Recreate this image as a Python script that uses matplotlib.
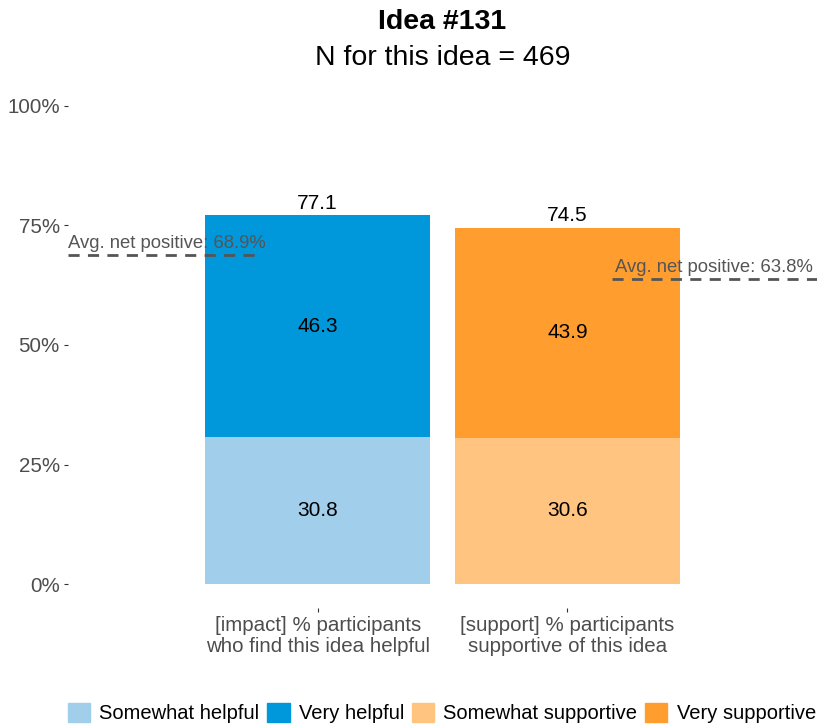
import matplotlib
matplotlib.use('Agg')
import matplotlib.pyplot as plt
from matplotlib.patches import Patch

plt.rcParams['font.family'] = ['Liberation Sans', 'DejaVu Sans']

# data
categories = ['[impact] % participants\nwho find this idea helpful',
              '[support] % participants\nsupportive of this idea']
somewhat = [30.8, 30.6]
very = [46.3, 43.9]
totals = [77.1, 74.5]
avg_net = [68.9, 63.8]
legend_labels = ['Somewhat helpful', 'Very helpful', 'Somewhat supportive', 'Very supportive']
light_colors = ['#a1cfeb', '#ffc47f']
dark_colors = ['#0098da', '#ff9e2e']

W, H = 827, 724
fig = plt.figure(figsize=(W / 100, H / 100), dpi=100)
ax = fig.add_axes([68 / W, (H - 608) / H, (817 - 68) / W, (608 - 82) / H])

xs = [1, 2]
ax.bar(xs, somewhat, width=0.9, color=light_colors)
ax.bar(xs, very, width=0.9, bottom=somewhat, color=dark_colors)

for x, s, v, t in zip(xs, somewhat, very, totals):
    ax.text(x, s / 2, f'{s}', ha='center', va='center', fontsize=15)
    ax.text(x, s + v / 2, f'{v}', ha='center', va='center', fontsize=15)
    ax.text(x, t + 0.5, f'{t}', ha='center', va='bottom', fontsize=15)

# average net positive reference lines
grey = '#555555'
ax.plot([0.0, 0.76], [avg_net[0]] * 2, ls=(0, (4, 3)), color=grey, lw=2)
ax.text(0.0, avg_net[0] + 0.6, f'Avg. net positive: {avg_net[0]}%', ha='left', va='bottom',
        fontsize=13.3, color=grey)
ax.plot([2.18, 3.0], [avg_net[1]] * 2, ls=(0, (4, 3)), color=grey, lw=2)
ax.text(2.19, avg_net[1] + 0.6, f'Avg. net positive: {avg_net[1]}%', ha='left', va='bottom',
        fontsize=13.3, color=grey)

ax.set_xlim(0, 3)
ax.set_ylim(-5, 105)
ax.set_xticks(xs)
ax.set_xticklabels(categories, fontsize=14.8, color='#4d4d4d', linespacing=1.1)
ax.set_yticks([0, 25, 50, 75, 100])
ax.set_yticklabels(['0%', '25%', '50%', '75%', '100%'], fontsize=14.8, color='#4d4d4d')
ax.tick_params(length=3, color='#333333', pad=3)
for s in ax.spines.values():
    s.set_visible(False)

cx = (68 + 817) / 2 / W
fig.text(cx, (H - 22) / H, 'Idea #131', ha='center', va='center', fontsize=20.5, fontweight='bold')
fig.text(cx, (H - 58) / H, 'N for this idea = 469', ha='center', va='center', fontsize=20.5)

handles = [Patch(color=c) for c in [light_colors[0], dark_colors[0], light_colors[1], dark_colors[1]]]
fig.legend(handles, legend_labels, loc='center left', bbox_to_anchor=(68 / W, 11 / H),
           ncol=4, frameon=False, fontsize=14.5, handlelength=1.1, handleheight=1.1,
           handletextpad=0.45, columnspacing=0.4, borderaxespad=0, borderpad=0)

fig.savefig('out.png', dpi=100)
